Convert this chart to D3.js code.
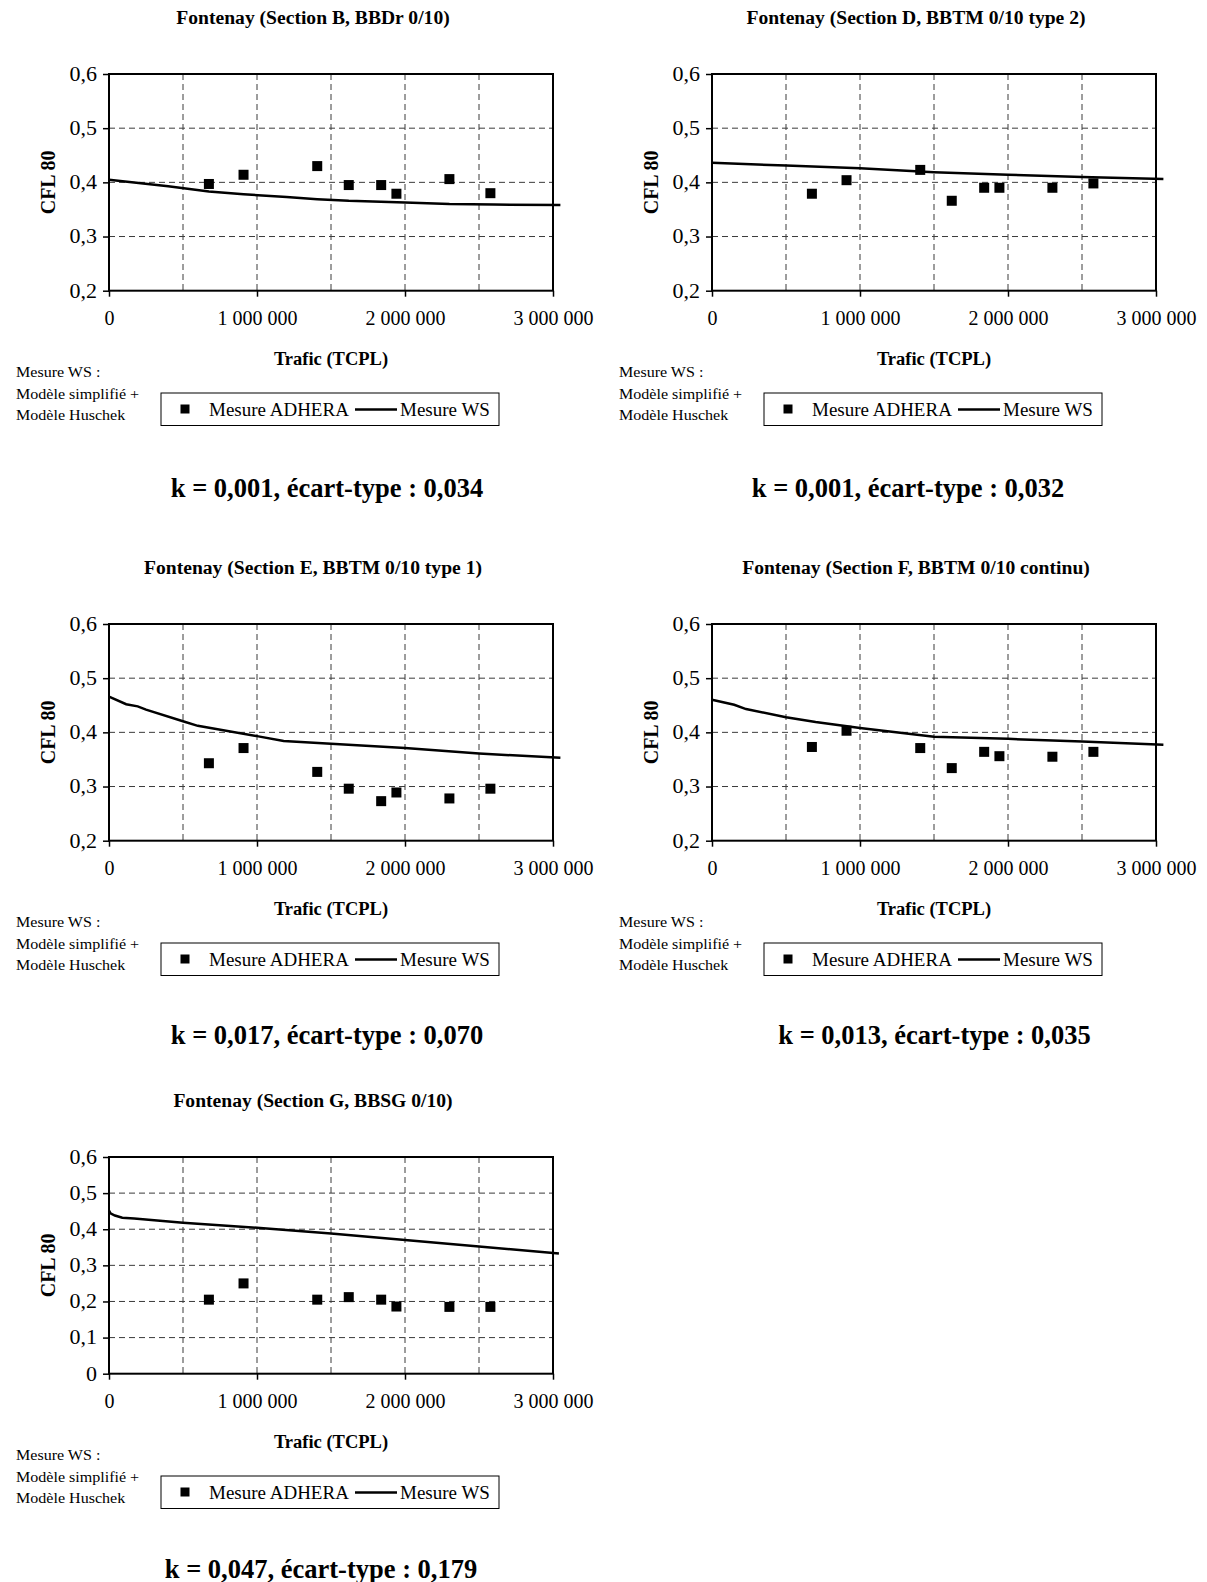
<!DOCTYPE html>
<html><head><meta charset="utf-8">
<script src="https://cdn.jsdelivr.net/npm/d3@7"></script>
<style>body{margin:0;background:#fff} svg{display:block}</style>
</head><body>
<svg id="c" width="1207" height="1582"></svg>
<script>
// ---------- DATA ----------
const trafic = [675000, 909000, 1407000, 1620000, 1839000, 1942000, 2300000, 2577000];

const adheraB = [0.397, 0.414, 0.430, 0.395, 0.395, 0.379, 0.406, 0.380];
const adheraD = [0.379, 0.404, 0.423, 0.366, 0.390, 0.390, 0.390, 0.398];
const adheraE = [0.343, 0.371, 0.327, 0.296, 0.273, 0.289, 0.278, 0.296];
const adheraF = [0.373, 0.403, 0.371, 0.334, 0.364, 0.356, 0.355, 0.364];
const adheraG = [0.205, 0.250, 0.205, 0.212, 0.205, 0.186, 0.185, 0.185];

const wsB_x = [0, 200000, 400000, 675000, 909000, 1200000, 1407000, 1620000, 2000000, 2300000, 2600000, 3050000];
const wsB_y = [0.405, 0.399, 0.393, 0.383, 0.378, 0.373, 0.369, 0.366, 0.363, 0.360, 0.359, 0.358];

const wsD_x = [0, 500000, 1000000, 1500000, 2000000, 2500000, 3050000];
const wsD_y = [0.436, 0.431, 0.426, 0.4185, 0.414, 0.410, 0.406];

const wsE_x = [0, 116000, 194000, 250000, 505000, 600000, 1000000, 1180000, 1500000, 2000000, 2500000, 3050000];
const wsE_y = [0.466, 0.452, 0.448, 0.442, 0.420, 0.412, 0.393, 0.384, 0.379, 0.371, 0.361, 0.353];

const wsF_x = [0, 150000, 230000, 500000, 700000, 1000000, 1500000, 2000000, 2500000, 3050000];
const wsF_y = [0.460, 0.451, 0.443, 0.428, 0.419, 0.408, 0.392, 0.388, 0.383, 0.377];

const wsG_x = [0, 10000, 40000, 90000, 170000, 500000, 1000000, 1500000, 2000000, 2500000, 3040000];
const wsG_y = [0.452, 0.444, 0.438, 0.432, 0.430, 0.418, 0.404, 0.388, 0.370, 0.352, 0.333];

const yTicks = [0.2, 0.3, 0.4, 0.5, 0.6];
const yTicksG = [0, 0.1, 0.2, 0.3, 0.4, 0.5, 0.6];
const xTicks = [0, 1000000, 2000000, 3000000];
const xGrid = [500000, 1000000, 1500000, 2000000, 2500000];

const titles = [
  "Fontenay (Section B, BBDr 0/10)",
  "Fontenay (Section D, BBTM 0/10 type 2)",
  "Fontenay (Section E, BBTM 0/10 type 1)",
  "Fontenay (Section F, BBTM 0/10 continu)",
  "Fontenay (Section G, BBSG 0/10)"
];
const kTexts = [
  "k = 0,001, écart-type : 0,034",
  "k = 0,001, écart-type : 0,032",
  "k = 0,017, écart-type : 0,070",
  "k = 0,013, écart-type : 0,035",
  "k = 0,047, écart-type : 0,179"
];
const xLabel = "Trafic (TCPL)";
const yLabel = "CFL 80";
const noteLines = ["Mesure WS :", "Modèle simplifié +", "Modèle Huschek"];
const legendLabels = ["Mesure ADHERA", "Mesure WS"];

// ---------- LAYOUT ----------
const panels = [
  {adhera: adheraB, lx: wsB_x, ly: wsB_y, yt: yTicks, col: 0, row: 0, kx: 327},
  {adhera: adheraD, lx: wsD_x, ly: wsD_y, yt: yTicks, col: 1, row: 0, kx: 908},
  {adhera: adheraE, lx: wsE_x, ly: wsE_y, yt: yTicks, col: 0, row: 1, kx: 327},
  {adhera: adheraF, lx: wsF_x, ly: wsF_y, yt: yTicks, col: 1, row: 1, kx: 934.5},
  {adhera: adheraG, lx: wsG_x, ly: wsG_y, yt: yTicksG, col: 0, row: 2, kx: 321}
];
const colX = [0, 603];
const rowY = [0, 550, 1083];
const kY = [487.5, 1034.5, 1568.5];

const FONT = "'Liberation Serif','Times New Roman',Times,serif";
const loc = d3.formatLocale({decimal: ",", thousands: " ", grouping: [3], currency: ["", ""]});
const fmtX = loc.format(",");
const fmtY1 = loc.format(".1f");
const fmtY = v => v === 0 ? "0" : fmtY1(v);

// horizontally stretch a text by a factor (the source font is rendered slightly wide)
function stretch(sel, f) {
  sel.each(function () {
    const w = this.getComputedTextLength();
    d3.select(this).attr("textLength", w * f).attr("lengthAdjust", "spacingAndGlyphs");
  });
}

const svg = d3.select("#c");

panels.forEach((p, i) => {
  const ox = colX[p.col], oy = rowY[p.row];
  const g = svg.append("g").attr("transform", `translate(${ox},${oy})`);
  const x0 = 109, x1 = 553, y0 = 74, y1 = 290.7;
  const x = d3.scaleLinear().domain([0, 3000000]).range([x0, x1]);
  const y = d3.scaleLinear().domain([p.yt[0], p.yt[p.yt.length - 1]]).range([y1, y0]);

  // title
  g.append("text").attr("x", 313).attr("y", 17).attr("text-anchor", "middle")
    .attr("dominant-baseline", "central").attr("font-family", FONT)
    .attr("font-weight", "bold").attr("font-size", 19.6).text(titles[i]);

  // grid
  g.append("g").selectAll("line.h").data(p.yt.slice(1, -1)).join("line")
    .attr("x1", x0).attr("x2", x1).attr("y1", d => y(d)).attr("y2", d => y(d))
    .attr("stroke", "#3a3a3a").attr("stroke-width", 1).attr("stroke-dasharray", "6,4");
  g.append("g").selectAll("line.v").data(xGrid).join("line")
    .attr("x1", d => x(d)).attr("x2", d => x(d)).attr("y1", y0).attr("y2", y1)
    .attr("stroke", "#3a3a3a").attr("stroke-width", 1).attr("stroke-dasharray", "6,4");

  // axes
  const ax = d3.axisBottom(x).tickValues(xTicks).tickFormat(fmtX).tickSize(6).tickPadding(14);
  const gx = g.append("g").attr("transform", `translate(0,${y1})`).call(ax);
  const ay = d3.axisLeft(y).tickValues(p.yt).tickFormat(fmtY).tickSize(6).tickPadding(6);
  const gy = g.append("g").attr("transform", `translate(${x0},0)`).call(ay);
  [gx, gy].forEach(a => {
    a.select(".domain").remove();
    a.selectAll(".tick line").attr("stroke", "#000").attr("stroke-width", 1.5);
    a.selectAll(".tick text").attr("font-family", FONT).attr("fill", "#000").attr("font-size", 20);
  });
  gy.selectAll(".tick text").call(stretch, 1.1);

  // frame
  g.append("rect").attr("x", x0).attr("y", y0).attr("width", x1 - x0).attr("height", y1 - y0)
    .attr("fill", "none").attr("stroke", "#000").attr("stroke-width", 2);

  // WS line
  const pts = p.lx.map((v, j) => [v, p.ly[j]]);
  g.append("path").datum(pts)
    .attr("d", d3.line().x(d => x(d[0])).y(d => y(d[1])))
    .attr("fill", "none").attr("stroke", "#000").attr("stroke-width", 2.5);

  // ADHERA squares
  const s = 10;
  g.append("g").selectAll("rect").data(trafic.map((t, j) => [t, p.adhera[j]])).join("rect")
    .attr("x", d => x(d[0]) - s / 2).attr("y", d => y(d[1]) - s / 2)
    .attr("width", s).attr("height", s).attr("fill", "#000");

  // axis titles
  g.append("text").attr("x", 331).attr("y", 359).attr("text-anchor", "middle")
    .attr("dominant-baseline", "central").attr("font-family", FONT)
    .attr("font-weight", "bold").attr("font-size", 18.5).text(xLabel);
  g.append("text").attr("transform", `translate(47.5,${(y0 + y1) / 2}) rotate(-90)`)
    .attr("text-anchor", "middle").attr("dominant-baseline", "central").attr("font-family", FONT)
    .attr("font-weight", "bold").attr("font-size", 20).text(yLabel);

  // note
  g.append("g").selectAll("text").data(noteLines).join("text")
    .attr("x", 16).attr("y", (d, j) => 372 + j * 21.5)
    .attr("dominant-baseline", "central").attr("font-family", FONT)
    .attr("font-size", 15).text(d => d).call(stretch, 1.07);

  // legend
  g.append("rect").attr("x", 161).attr("y", 393).attr("width", 338).attr("height", 32.5)
    .attr("fill", "#fff").attr("stroke", "#000").attr("stroke-width", 1);
  g.append("rect").attr("x", 180.5).attr("y", 404.5).attr("width", 9).attr("height", 9).attr("fill", "#000");
  g.append("text").attr("x", 209).attr("y", 409.5).attr("dominant-baseline", "central")
    .attr("font-family", FONT).attr("font-size", 19).text(legendLabels[0]);
  g.append("line").attr("x1", 355).attr("x2", 397).attr("y1", 409.5).attr("y2", 409.5)
    .attr("stroke", "#000").attr("stroke-width", 2.5);
  g.append("text").attr("x", 400).attr("y", 409.5).attr("dominant-baseline", "central")
    .attr("font-family", FONT).attr("font-size", 19).text(legendLabels[1]);

  // k text (absolute)
  svg.append("text").attr("x", p.kx).attr("y", kY[p.row]).attr("text-anchor", "middle")
    .attr("dominant-baseline", "central").attr("font-family", FONT)
    .attr("font-weight", "bold").attr("font-size", 26.5).text(kTexts[i]);
});
</script>
</body></html>
